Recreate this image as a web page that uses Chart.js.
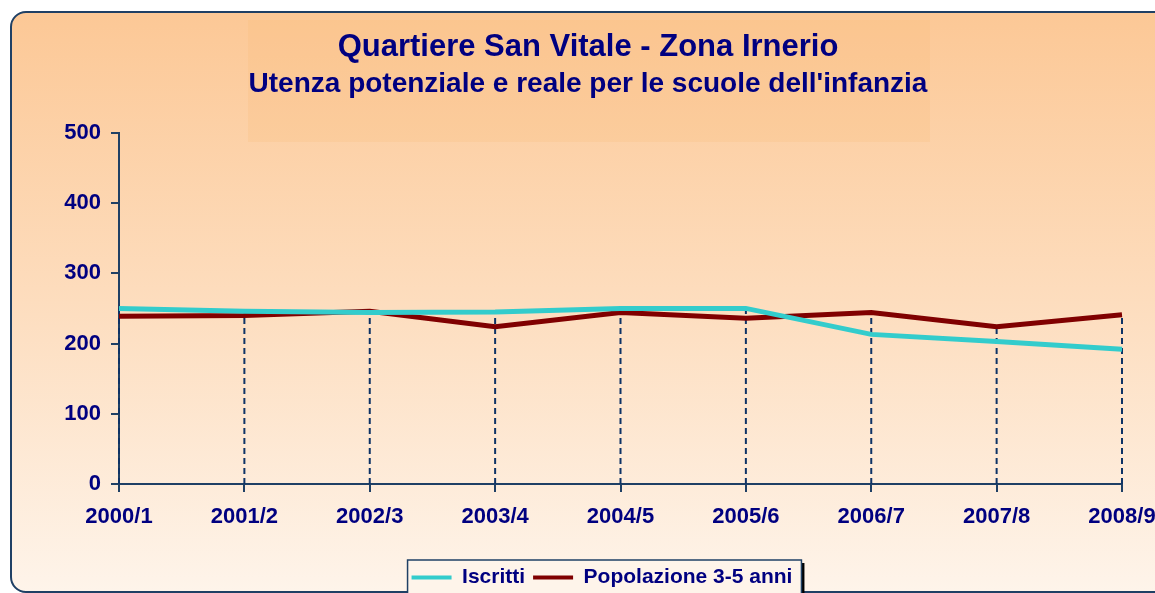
<!DOCTYPE html>
<html>
<head>
<meta charset="utf-8">
<script src="https://cdn.jsdelivr.net/npm/chart.js@4"></script>
<style>
    html, body { margin: 0; padding: 0; width: 1155px; height: 593px; overflow: hidden; background: #ffffff; }
    .panel {
        position: absolute; left: 10px; top: 11px; width: 1160px; height: 578px;
        border: 2px solid #1F4065; border-radius: 16px;
        background: linear-gradient(#FCC896 0%, #FDDDBE 50%, #FEF4EA 100%);
    }
    .title-box {
        position: absolute; left: 248px; top: 20px; width: 682px; height: 122px;
        background: rgba(250, 185, 120, 0.22);
    }
    #wrap { position: absolute; left: 0; top: 0; width: 1176px; height: 620px; }
</style>
</head>
<body>
<div class="panel"></div>
<div class="title-box"></div>
<div id="wrap"><canvas id="chart"></canvas></div>
<script>
// Data
const categories = ['2000/1', '2001/2', '2002/3', '2003/4', '2004/5', '2005/6', '2006/7', '2007/8', '2008/9'];
const iscritti = [250, 246, 244, 245, 250, 250, 213, 203, 192];
const popolazione = [239, 240, 246, 224, 244, 236, 244, 224, 241];
const yTicks = [0, 100, 200, 300, 400, 500];

const navy = '#000080';
const axisColor = '#1F4065';
const fontFamily = 'Liberation Sans, Arial, sans-serif';
const legendShift = 14;

// Excel-style drop lines from the highest point down to the x axis
const dropLines = {
    id: 'dropLines',
    beforeDatasetsDraw(chart) {
        const { ctx, scales: { x, y } } = chart;
        ctx.save();
        ctx.strokeStyle = '#0E3366';
        ctx.lineWidth = 2;
        ctx.setLineDash([6, 4]);
        categories.forEach((c, i) => {
            const top = Math.max(iscritti[i], popolazione[i]);
            const px = x.getPixelForValue(i);
            ctx.beginPath();
            ctx.moveTo(px, y.getPixelForValue(0));
            ctx.lineTo(px, y.getPixelForValue(top));
            ctx.stroke();
        });
        ctx.restore();
    }
};

// the legend sits a bit right of centre in the original
const moveLegend = {
    id: 'moveLegend',
    afterLayout(chart) {
        const lg = chart.legend;
        lg.left += legendShift;
        lg.right += legendShift;
        lg.legendHitBoxes.forEach(b => { b.left += legendShift; });
    }
};

// Box round the legend, with a dark shadow on the right
const legendBox = {
    id: 'legendBox',
    beforeDraw(chart) {
        const boxes = chart.legend.legendHitBoxes;
        if (!boxes || !boxes.length) return;
        const left = Math.min(...boxes.map(b => b.left)) - 4;
        const right = Math.max(...boxes.map(b => b.left + b.width)) + 9;
        const top = Math.min(...boxes.map(b => b.top)) - 7;
        const bottom = chart.height;
        const { ctx } = chart;
        ctx.save();
        ctx.fillStyle = '#000000';
        ctx.fillRect(right, top + 3, 3, bottom - top);
        ctx.fillStyle = '#FEF4EA';
        ctx.fillRect(left, top, right - left, bottom - top);
        ctx.strokeStyle = axisColor;
        ctx.lineWidth = 1.5;
        ctx.strokeRect(left, top, right - left, bottom - top);
        ctx.restore();
    }
};

new Chart(document.getElementById('chart').getContext('2d'), {
    type: 'line',
    data: {
        labels: categories,
        datasets: [{
            label: 'Iscritti',
            data: iscritti,
            borderColor: '#33CCCC',
            backgroundColor: '#33CCCC',
            borderWidth: 5,
            pointRadius: 0,
            tension: 0
        }, {
            label: 'Popolazione 3-5 anni',
            data: popolazione,
            borderColor: '#800000',
            backgroundColor: '#800000',
            borderWidth: 5,
            pointRadius: 0,
            tension: 0
        }]
    },
    options: {
        responsive: true,
        maintainAspectRatio: false,
        animation: false,
        layout: { padding: { left: 54, right: 54, top: 0, bottom: 22 } },
        plugins: {
            title: {
                display: true,
                text: 'Quartiere San Vitale - Zona Irnerio',
                color: navy,
                font: { family: fontFamily, size: 31, weight: 'bold' },
                padding: { top: 29, bottom: 0 }
            },
            subtitle: {
                display: true,
                text: "Utenza potenziale e reale per le scuole dell'infanzia",
                color: navy,
                font: { family: fontFamily, size: 28, weight: 'bold' },
                padding: { top: 1, bottom: 32 }
            },
            legend: {
                position: 'bottom',
                labels: {
                    color: navy,
                    font: { family: fontFamily, size: 21, weight: 'bold' },
                    boxWidth: 40,
                    boxHeight: 4,
                    padding: 8,
                    generateLabels(chart) {
                        return Chart.defaults.plugins.legend.labels.generateLabels(chart)
                            .map(item => ({ ...item, lineWidth: 0 }));
                    }
                }
            },
            tooltip: { enabled: false }
        },
        scales: {
            x: {
                offset: false,
                grid: { drawOnChartArea: false, drawTicks: true, tickLength: 8, color: axisColor, lineWidth: 2 },
                border: { display: true, color: axisColor, width: 2 },
                ticks: {
                    color: navy,
                    padding: 12,
                    maxRotation: 0,
                    autoSkip: false,
                    font: { family: fontFamily, size: 22, weight: 'bold' }
                },
                afterFit(scale) { scale.height = 75; }
            },
            y: {
                min: 0,
                max: 500,
                afterBuildTicks(scale) { scale.ticks = yTicks.map(v => ({ value: v })); },
                grid: { drawOnChartArea: false, drawTicks: true, tickLength: 8, color: axisColor, lineWidth: 2 },
                border: { display: true, color: axisColor, width: 2 },
                ticks: {
                    color: navy,
                    padding: 10,
                    font: { family: fontFamily, size: 22, weight: 'bold' }
                },
                afterFit(scale) { scale.width = 65; }
            }
        }
    },
    plugins: [moveLegend, legendBox, dropLines]
});
</script>
</body>
</html>
